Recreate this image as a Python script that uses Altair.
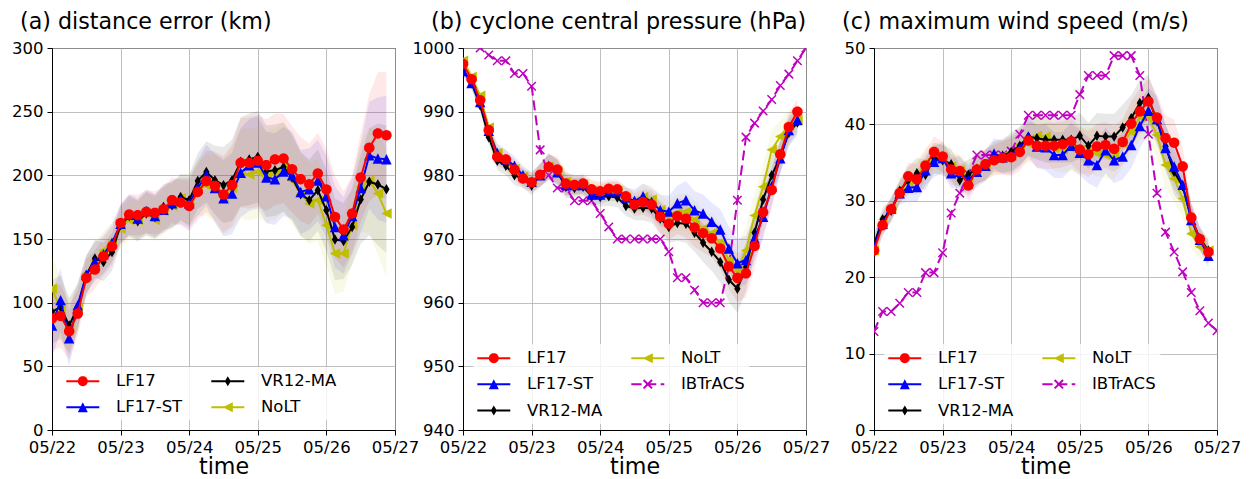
import math
import altair as alt
import pandas as pd

# ---------------- data (3-hourly from 05/22 00UTC) ----------------
names = ["LF17", "LF17-ST", "VR12-MA", "NoLT"]
obs_name = "IBTrACS"
day_labels = ["05/22", "05/23", "05/24", "05/25", "05/26", "05/27"]

# (a) distance error (km)
a_LF17 = [87.5, 89.5, 77.5, 91.4, 119.4, 126, 136.4, 144.3, 162.6, 169.2, 168.7, 171.3, 170.5, 173.4, 180.5, 178.6, 176, 187, 195.4, 191.7,
          185, 192.3, 209.8, 209.8, 211.4, 208, 212.5, 213.2, 204.8, 197, 193, 201.4, 188.9, 167.3, 157.4, 170, 198.3, 221.6, 232.9, 231.5]
a_LF17ST = [82, 102, 72, 98, 122, 132, 138, 147, 162, 169, 166, 172, 168, 173, 178, 180, 178, 190, 200, 190,
            182, 185.8, 202, 208, 210, 198.3, 197, 203, 200, 187, 189, 196, 183.6, 159.5, 153, 168, 190, 215.8, 213.2, 212.7]
a_VR12 = [92.7, 96.6, 82, 96.6, 121.5, 134.6, 132, 139.8, 160.8, 168, 164, 170, 167.3, 175.2, 176.5, 183, 180.5, 195.6, 202.7, 196.2,
          192.3, 196.2, 210.6, 212.5, 214.5, 203.3, 204, 206.6, 198.3, 185.2, 180.5, 188.3, 172.6, 149.6, 148.5, 159.5, 181, 194.9, 192.8, 189.1]
a_NoLT = [111, 95, 80, 95, 123, 133, 141, 148, 158, 165, 165, 170, 165, 172, 176, 182, 181, 190, 192, 190,
          183, 190, 201.4, 200.6, 202.7, 199, 201, 206, 196, 185, 177.9, 180.5, 160.8, 138.6, 138.6, 160.8, 191, 196, 185.7, 170]
a_spread = [25, 25, 22, 18, 15, 15, 15, 15, 15, 16, 16, 17, 17, 18, 18, 18, 20, 22, 24, 27,
            30, 32, 35, 36, 36, 36, 36, 35, 34, 33, 32, 32, 32, 32, 30, 30, 35, 42, 48, 50]

# (b) cyclone central pressure (hPa)
b_LF17 = [997.5, 995.1, 991.8, 987.1, 982.9, 982.5, 980.9, 979.5, 978.9, 980.1, 981.3, 980.9, 978.7, 978.5, 978.7, 977.8, 977.5, 977.9, 977.8, 976.7,
          975.4, 975.8, 975.4, 973.5, 972.4, 973.6, 973.2, 971.8, 970.9, 970.1, 968.5, 965.7, 963.9, 964.6, 968.9, 974.2, 977.7, 983.3, 987.6, 990]
b_LF17ST = [996.4, 994.5, 991.5, 987, 983.5, 982.5, 981.5, 980, 979, 980, 981.5, 980.5, 978.5, 978.5, 978.5, 977, 977, 977.5, 977.5, 976.5,
            976, 976.7, 975.8, 974.5, 974.3, 975.6, 976.1, 974.5, 974, 972.7, 971.5, 968.5, 966.2, 966.7, 970.1, 973.5, 978.3, 982.7, 987.1, 988.7]
b_VR12 = [996.5, 994.5, 991, 986, 982.3, 981.5, 980, 979.5, 978.4, 980, 981.3, 980.5, 978.2, 978, 978.2, 976.7, 976.6, 976.7, 976.5, 975.2,
          974.8, 974.9, 974.8, 973.2, 971.9, 972.5, 972.4, 971, 969.4, 968, 966.4, 963.6, 962.2, 965.6, 971, 976.2, 980, 982.9, 986.7, 988.3]
b_NoLT = [998, 995.5, 992.5, 987.5, 983.5, 982, 981, 979.8, 979, 980, 981.4, 980.6, 979, 978.3, 978.6, 977.5, 977.3, 977.5, 977.5, 976.5,
          975.7, 976.6, 976.2, 974.5, 973.5, 974.1, 974.3, 973, 971.6, 970.9, 969.4, 966.7, 965.1, 968.2, 973.7, 978.2, 984, 986.1, 987.9, 988.7]
b_obs = [1002, 1001, 1000, 998.9, 998, 998, 996, 996, 994, 984, 980, 978, 978, 976, 976, 976, 974, 971.9, 970, 970, 970,
         970, 970, 970, 968, 963.9, 963.9, 962, 960, 960, 960, 965.6, 976.1, 986, 988.2, 990.1, 991.9, 994.1, 995.9, 998, 1000]
b_spread = [0.8, 1, 1, 1.2, 1.5, 1.5, 1.5, 1.5, 1.5, 1.8, 2, 2, 1.8, 1.5, 1.5, 1.5, 1.5, 1.5, 1.5, 1.6,
            1.8, 2, 2.2, 2.5, 2.5, 2.8, 3, 3, 3, 3, 3.2, 3.5, 3.8, 3.8, 3.5, 3.5, 3, 2.5, 2.2, 2]

# (c) maximum wind speed (m/s)
c_LF17 = [23.5, 26.8, 28.9, 31, 33.2, 32.8, 34.6, 36.4, 35.8, 34.1, 33.9, 32, 34.1, 34.8, 35.3, 35.6, 35.7, 36.4, 37.9, 37.2,
          37.2, 37.2, 37.4, 37.8, 36.7, 36.1, 37.1, 37.3, 36.8, 37.7, 40.1, 41.7, 43, 40.9, 38.2, 37.6, 34.5, 27.8, 25, 23.3]
c_LF17ST = [24, 27, 29, 31, 31.7, 31.8, 34, 35.1, 35.6, 33.6, 33.8, 32.7, 33.8, 34.6, 36.2, 35.7, 36, 36.9, 38.4, 37.1,
            37, 36, 36, 37.2, 36.3, 35.3, 34.7, 36.6, 35.3, 35.8, 37.3, 39.8, 41.8, 40.7, 36.9, 34.5, 32.1, 27.5, 24.9, 22.8]
c_VR12 = [24.3, 27.6, 28.7, 31.3, 32.7, 33.6, 33.4, 35.6, 35.3, 34.8, 32.7, 33.4, 34.2, 34.7, 35.8, 35.9, 36.4, 37.2, 38.4, 38.2,
          38, 38, 38, 38, 38.5, 37.2, 38.5, 38.4, 38.4, 39.6, 40.8, 42.8, 43.5, 40.4, 37.1, 33.8, 31.9, 27.7, 25.1, 23.5]
c_NoLT = [23.5, 27, 29, 31.3, 32.5, 33.2, 35, 35.5, 35.7, 34.5, 34, 33, 34.3, 34.5, 35.5, 35.8, 36.2, 37.3, 37.5, 38.5,
          38.4, 36.9, 36.7, 36.9, 36.6, 36.6, 36.2, 36, 35.8, 37.5, 39, 41, 41, 38.6, 34.7, 32.9, 30.3, 25.7, 24, 23.5]
c_obs = [12.9, 15.5, 15.5, 16.6, 18, 18, 20.6, 20.6, 23.2, 28.4, 31, 33.5, 36, 36, 36, 36, 36.5, 38.7, 41.2, 41.2, 41.2,
         41.2, 41.2, 41.2, 43.9, 46.4, 46.4, 46.4, 49, 49, 49, 46.4, 38.7, 31, 25.9, 23.3, 20.7, 18, 15.6, 14, 13]
c_spread = [1.5, 1.5, 1.5, 1.5, 1.8, 2, 2, 2, 2, 2, 2, 2, 2, 2, 2, 2.2, 2.5, 2.5, 2.5, 2.8,
            3, 3, 3, 3, 3, 3, 3, 3, 3, 3, 3, 3, 3, 3, 3, 3, 2.5, 2, 1.5, 1.5]

# ---------------- styling ----------------
COLORS = {"LF17": "#ff0000", "LF17-ST": "#0000ff", "VR12-MA": "#000000", "NoLT": "#bfbf00", "IBTrACS": "#bf00bf"}
FONT = "DejaVu Sans"
W, H = 343, 382


def poly(pts):
    return "M" + "L".join(f"{x:.3f},{y:.3f}" for x, y in pts) + "Z"


UNIT = {
    "LF17": [(math.cos(2 * math.pi * k / 24), math.sin(2 * math.pi * k / 24)) for k in range(24)],
    "LF17-ST": [(0, -1), (1, 1), (-1, 1)],
    "VR12-MA": [(0, -1), (0.6, 0), (0, 1), (-0.6, 0)],
    "NoLT": [(-1, 0), (1, -1), (1, 1)],
}
X_PATH = "M-1,-1L1,1M-1,1L1,-1"


def legend_path(name):
    cx, s, t = 0.65, 0.5, 0.1
    segs = [(-1.0, 0.03), (0.47, 1.5), (1.94, 2.3)] if name == obs_name else [(-1.0, 2.3)]
    parts = [poly([(a, -t), (b, -t), (b, t), (a, t)]) for a, b in segs]
    if name == obs_name:
        L, tt = 0.42, 0.07
        for dx, dy in [(1, 1), (1, -1)]:
            nx, ny = -dy * tt, dx * tt
            pts = [(cx - L * dx + nx, -L * dy + ny), (cx + L * dx + nx, L * dy + ny),
                   (cx + L * dx - nx, L * dy - ny), (cx - L * dx - nx, -L * dy - ny)]
            parts.append(poly(pts[::-1]))
    else:
        parts.append(poly([(cx + s * x, s * y) for x, y in UNIT[name]]))
    return "".join(parts)


def panel(title, series, spread, obs, ydom, yticks, legend_order, lx, ly):
    hrs = [3 * i for i in range(40)]
    rows = []
    for nm, vals in zip(names, series):
        for h, v, sp in zip(hrs, vals, spread):
            rows.append({"hour": h, "series": nm, "value": v, "lo": v - sp, "hi": v + sp})
    if obs is not None:
        for i, v in enumerate(obs):
            rows.append({"hour": 3 * i, "series": obs_name, "value": v, "lo": v, "hi": v})
    df = pd.DataFrame(rows)
    base = alt.Chart(df)
    xenc = alt.X("hour:Q", scale=alt.Scale(domain=[0, 120], nice=False, zero=False),
                 axis=alt.Axis(values=[0, 24, 48, 72, 96, 120],
                               labelExpr="'05/' + (22 + datum.value/24)", title="time"))
    yscale = alt.Scale(domain=ydom, nice=False, zero=False)
    yaxis = alt.Axis(values=yticks, title=None, format="d")
    layers = []
    for nm in names:
        layers.append(base.transform_filter(alt.datum.series == nm).mark_area(
            opacity=0.09, color=COLORS[nm], clip=True).encode(
            x=xenc, y=alt.Y("lo:Q", scale=yscale, axis=yaxis), y2="hi:Q"))
    order = ([obs_name] if obs is not None else []) + ["NoLT", "VR12-MA", "LF17-ST", "LF17"]
    for nm in order:
        sub = base.transform_filter(alt.datum.series == nm)
        if nm == obs_name:
            layers.append(sub.mark_line(color=COLORS[nm], strokeWidth=2, strokeDash=[10, 5], clip=True).encode(
                x=xenc, y=alt.Y("value:Q", scale=yscale, axis=yaxis)))
            layers.append(sub.mark_point(shape=X_PATH, size=72, filled=False, color=COLORS[nm],
                                         strokeWidth=1.5, opacity=1, clip=True).encode(
                x=xenc, y=alt.Y("value:Q", scale=yscale, axis=yaxis)))
        else:
            layers.append(sub.mark_line(color=COLORS[nm], strokeWidth=2, clip=True).encode(
                x=xenc, y=alt.Y("value:Q", scale=yscale, axis=yaxis)))
            layers.append(sub.mark_point(shape=poly(UNIT[nm]), size=110, filled=True, color=COLORS[nm],
                                         opacity=1, strokeWidth=0, clip=True).encode(
                x=xenc, y=alt.Y("value:Q", scale=yscale, axis=yaxis)))
    leg = alt.Legend(orient="none", legendX=lx, legendY=ly, columns=2, title=None,
                     symbolSize=400, symbolStrokeWidth=0, symbolOpacity=1,
                     labelFont=FONT, labelFontSize=16.5, labelColor="black", labelOffset=29.7,
                     labelLimit=0, columnPadding=29, rowPadding=7.3, padding=4,
                     fillColor="rgba(255,255,255,0.8)")
    ldf = pd.DataFrame({"series": legend_order})
    legend_layer = alt.Chart(ldf).transform_filter("false").mark_point(filled=True, opacity=1).encode(
        color=alt.Color("series:N", scale=alt.Scale(domain=legend_order, range=[COLORS[n] for n in legend_order]), legend=leg),
        shape=alt.Shape("series:N", scale=alt.Scale(domain=legend_order, range=[legend_path(n) for n in legend_order]), legend=leg),
    )
    layers.append(legend_layer)
    return alt.layer(*layers).properties(
        width=W, height=H,
        title=alt.Title(title, anchor="start", frame="group", dx=-32, offset=-11, baseline="alphabetic",
                        fontSize=22.2, font=FONT, fontWeight="normal", color="black"))


pa = panel("(a) distance error (km)", [a_LF17, a_LF17ST, a_VR12, a_NoLT], a_spread, None,
           [0, 300], [0, 50, 100, 150, 200, 250, 300], ["LF17", "LF17-ST", "VR12-MA", "NoLT"], 10.3, 318.9)
pb = panel("(b) cyclone central pressure (hPa)", [b_LF17, b_LF17ST, b_VR12, b_NoLT], b_spread, b_obs,
           [940, 1000], [940, 950, 960, 970, 980, 990, 1000], ["LF17", "LF17-ST", "VR12-MA", "NoLT", "IBTrACS"], 10.3, 295.9)
pc = panel("(c) maximum wind speed (m/s)", [c_LF17, c_LF17ST, c_VR12, c_NoLT], c_spread, c_obs,
           [0, 50], [0, 10, 20, 30, 40, 50], ["LF17", "LF17-ST", "VR12-MA", "NoLT", "IBTrACS"], 10.3, 295.9)

chart = alt.hconcat(pa, pb, pc, spacing=68, bounds="flush").resolve_scale(
    color="independent", shape="independent", x="independent", y="independent"
).resolve_legend(color="independent", shape="independent").properties(
    padding={"left": 3, "top": 2, "right": 0, "bottom": 0}
).configure_view(stroke="black", strokeWidth=1).configure_axis(
    domainColor="black", domainWidth=1, tickColor="black", tickSize=5, tickWidth=1,
    labelFont=FONT, labelFontSize=16.5, labelColor="black", labelPadding=4,
    labelFlush=False, labelOverlap=False,
    gridColor="#b0b0b0", gridWidth=0.8, gridOpacity=1,
    titleFont=FONT, titleFontSize=22.2, titleFontWeight="normal", titleColor="black", titlePadding=0,
)

chart.save("out.html", embed_options={"renderer": "svg", "actions": False})
